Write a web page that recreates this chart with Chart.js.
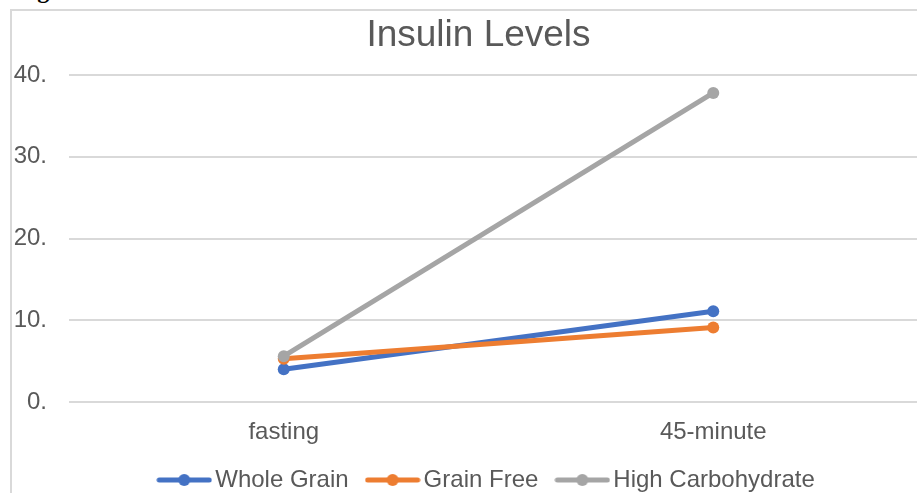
<!DOCTYPE html>
<html>
<head>
<meta charset="utf-8">
<script src="https://cdn.jsdelivr.net/npm/chart.js@4/dist/chart.umd.min.js"></script>
<style>
    body { margin: 0; background: #fff; overflow: hidden; }
    #caption {
        position: absolute; left: 16px; top: -22px;
        font: bold 24px "Liberation Serif", serif; line-height: 24px; color: #000;
    }
    #frame {
        position: absolute; left: 10px; top: 9px;
        width: 960px; height: 510px;
        border: 2px solid #d9d9d9;
    }
    #insulinChart { display: block; }
</style>
</head>
<body>
<div id="caption">Fig</div>
<div id="frame">
    <canvas id="insulinChart" width="960" height="499"></canvas>
</div>
<script>
// 1. Chart data
const timePoints = ['fasting', '45-minute'];
const wholeGrain = [4.0, 11.1];
const grainFree = [5.3, 9.1];
const highCarb = [5.6, 37.8];
const yTicks = [0, 10, 20, 30, 40];

const textColor = '#595959';
const gridColor = '#d9d9d9';

// 2. Legend marker: a short line with a dot in the middle (Excel style)
function legendMarker(color) {
    const c = document.createElement('canvas');
    c.width = 56;
    c.height = 14;
    const g = c.getContext('2d');
    g.strokeStyle = color;
    g.lineWidth = 5;
    g.lineCap = 'round';
    g.beginPath();
    g.moveTo(3, 7);
    g.lineTo(53, 7);
    g.stroke();
    g.fillStyle = color;
    g.beginPath();
    g.arc(28, 7, 6, 0, Math.PI * 2);
    g.fill();
    return c;
}

function series(label, data, color, order) {
    return {
        label: label,
        data: data,
        borderColor: color,
        backgroundColor: color,
        borderWidth: 5,
        pointRadius: 6,
        pointBorderWidth: 0,
        pointBackgroundColor: color,
        order: order,
        marker: legendMarker(color)
    };
}

// Nudge title / legend sideways so they sit where Excel put them
const nudgeBoxes = {
    id: 'nudgeBoxes',
    afterLayout(chart) {
        const t = chart.titleBlock;
        t.left += 8.5; t.right += 8.5;
        const l = chart.legend;
        l.left -= 8.5; l.right -= 8.5;
        l.top -= 4; l.bottom -= 4;
    }
};

// 3. Build the chart
const ctx = document.getElementById('insulinChart').getContext('2d');

const insulinChart = new Chart(ctx, {
    type: 'line',
    data: {
        labels: timePoints,
        datasets: [
            series('Whole Grain', wholeGrain, '#4472C4', 3),
            series('Grain Free', grainFree, '#ED7D31', 2),
            series('High Carbohydrate', highCarb, '#A5A5A5', 1)
        ]
    },
    plugins: [nudgeBoxes],
    options: {
        responsive: false,
        animation: false,
        layout: { padding: { left: 0, right: 44, top: 0, bottom: 4 } },
        scales: {
            x: {
                offset: true,
                grid: { display: false },
                border: { display: false },
                ticks: {
                    color: textColor,
                    padding: 8,
                    font: { family: 'Liberation Sans, Arial, sans-serif', size: 24 }
                },
                afterFit: (scale) => { scale.height = 45; }
            },
            y: {
                min: 0,
                max: 40,
                afterBuildTicks: (scale) => { scale.ticks = yTicks.map(v => ({ value: v })); },
                grid: { color: gridColor, lineWidth: 2, drawTicks: false },
                border: { display: false },
                ticks: {
                    color: textColor,
                    padding: 22,
                    font: { family: 'Liberation Sans, Arial, sans-serif', size: 24 },
                    callback: (v) => v + '.'
                },
                afterFit: (scale) => { scale.width = 57; }
            }
        },
        plugins: {
            title: {
                display: true,
                text: 'Insulin Levels',
                color: textColor,
                font: { family: 'Liberation Sans, Arial, sans-serif', size: 37, weight: 'normal' },
                padding: { top: 2.4, bottom: 17.2 }
            },
            legend: {
                position: 'bottom',
                fullSize: false,
                labels: {
                    color: textColor,
                    font: { family: 'Liberation Sans, Arial, sans-serif', size: 24 },
                    usePointStyle: true,
                    pointStyleWidth: 38,
                    padding: 25,
                    sort: (a, b) => a.datasetIndex - b.datasetIndex,
                    generateLabels: (chart) => {
                        const items = Chart.defaults.plugins.legend.labels.generateLabels(chart);
                        items.forEach(item => {
                            item.pointStyle = chart.data.datasets[item.datasetIndex].marker;
                        });
                        return items;
                    }
                }
            },
            tooltip: { enabled: false }
        }
    }
});
</script>
</body>
</html>
